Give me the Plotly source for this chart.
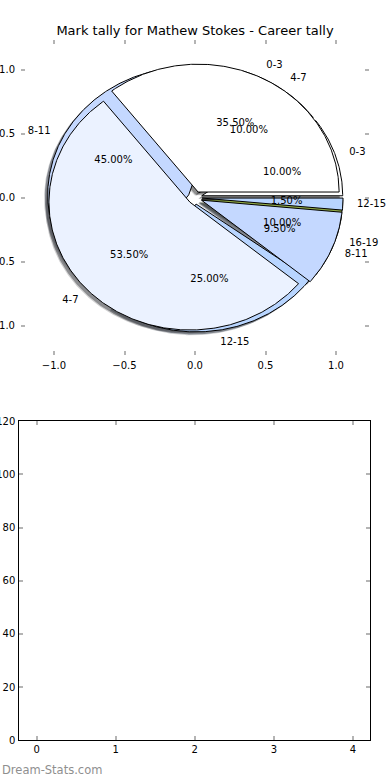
import numpy as np
import plotly.graph_objects as go

chart_title = "Mark tally for Mathew Stokes - Career tally"
pie_a_labels = ["0-3", "4-7", "8-11", "12-15"]
pie_a_values = [35.5, 53.5, 9.5, 1.5]
pie_b_labels = ["0-3", "4-7", "8-11", "12-15", "16-19"]
pie_b_values = [10.0, 10.0, 45.0, 25.0, 10.0]
wedge_colors = ["#ffffff", "#ebf2ff", "#c4d8ff", "#b8d5ff", "#8fa845"]
top_ticks = [-1.0, -0.5, 0.0, 0.5, 1.0]
bottom_x_ticks = [0, 1, 2, 3, 4]
bottom_y_ticks = [0, 20, 40, 60, 80, 100, 120]

EXPLODE = 0.05
SHADOW = (-0.02, -0.02)
FONT = "DejaVu Sans"
W, H = 390, 780


def wedges(values):
    total = float(sum(values))
    out = []
    start = 0.0
    for v in values:
        span = 360.0 * v / total
        end = start + span
        mid = np.deg2rad((start + end) / 2)
        cx, cy = EXPLODE * np.cos(mid), EXPLODE * np.sin(mid)
        n = max(int(span * 2), 4)
        th = np.deg2rad(np.linspace(start, end, n))
        xs = np.concatenate([[cx], cx + np.cos(th), [cx]])
        ys = np.concatenate([[cy], cy + np.sin(th), [cy]])
        out.append((xs, ys, mid, cx, cy, v / total * 100))
        start = end
    return out


def hex_scale(c, k, a):
    c = c.lstrip("#")
    r, g, b = (int(c[i:i + 2], 16) for i in (0, 2, 4))
    return f"rgba({int(r * k)},{int(g * k)},{int(b * k)},{a})"


fig = go.Figure()
pie_b = wedges(pie_b_values)
pie_a = wedges(pie_a_values)

# shadows (beneath all wedges), soft edge imitated with two layers
for pie in (pie_b, pie_a):
    for i, (xs, ys, mid, cx, cy, pct) in enumerate(pie):
        for dx, dy, a in ((SHADOW[0] * 1.3, SHADOW[1] * 1.3, 0.25), (SHADOW[0], SHADOW[1], 0.5)):
            fig.add_trace(go.Scatter(
                x=xs + dx, y=ys + dy, mode="lines", fill="toself",
                fillcolor=hex_scale(wedge_colors[i], 0.3, a), line=dict(width=0),
                hoverinfo="skip", xaxis="x", yaxis="y"))

# wedges
for pie in (pie_b, pie_a):
    for i, (xs, ys, mid, cx, cy, pct) in enumerate(pie):
        fig.add_trace(go.Scatter(
            x=xs, y=ys, mode="lines", fill="toself",
            fillcolor=wedge_colors[i], line=dict(color="black", width=1),
            hoverinfo="skip", xaxis="x", yaxis="y"))

# labels
for pie, labels in ((pie_b, pie_b_labels), (pie_a, pie_a_labels)):
    for i, (xs, ys, mid, cx, cy, pct) in enumerate(pie):
        lx = cx + 1.1 * np.cos(mid)
        ly = cy + 1.1 * np.sin(mid)
        fig.add_trace(go.Scatter(
            x=[lx], y=[ly], mode="text", text=[labels[i]], cliponaxis=False,
            textposition="middle right" if lx > 0 else "middle left",
            textfont=dict(family=FONT, size=10, color="black"),
            hoverinfo="skip", xaxis="x", yaxis="y"))
        px = cx + 0.6 * np.cos(mid)
        py = cy + 0.6 * np.sin(mid)
        fig.add_trace(go.Scatter(
            x=[px], y=[py], mode="text", text=[f"{pct:1.2f}%"], cliponaxis=False,
            textposition="middle center",
            textfont=dict(family=FONT, size=10, color="black"),
            hoverinfo="skip", xaxis="x", yaxis="y"))

# empty second axes
fig.add_trace(go.Scatter(x=[], y=[], mode="markers", xaxis="x2", yaxis="y2"))


def fmt(v):
    s = f"{v:.1f}"
    return s.replace("-", "\u2212")


tick_common = dict(ticks="inside", ticklen=4, tickwidth=1.5, tickcolor="#b4b4b4",
                   showgrid=False, zeroline=False, automargin=False,
                   tickfont=dict(family=FONT, size=10, color="black"))

fig.update_layout(
    width=W, height=H,
    margin=dict(l=0, r=0, t=0, b=0, pad=0),
    paper_bgcolor="white", plot_bgcolor="white",
    showlegend=False,
    title=dict(text=chart_title, x=0.5, xanchor="center", y=1 - 30 / H, yanchor="middle",
               font=dict(family=FONT, size=13, color="black")),
    xaxis=dict(domain=[21 / W, 369 / W], range=[-1.234, 1.234], anchor="y",
               tickvals=top_ticks, ticktext=[fmt(v) for v in top_ticks],
               ticklabelstandoff=3,
               showline=False, mirror="ticks", **tick_common),
    yaxis=dict(domain=[1 - 355 / H, 1 - 40 / H], range=[-1.23, 1.234], anchor="x",
               tickvals=top_ticks, ticktext=[fmt(v) for v in top_ticks],
               ticklabelstandoff=5,
               showline=False, mirror="ticks", **tick_common),
    xaxis2=dict(domain=[19.3 / W, 370.3 / W], range=[-0.22, 4.22], anchor="y2",
                tickvals=bottom_x_ticks, ticktext=[str(v) for v in bottom_x_ticks],
                showline=True, linecolor="black", linewidth=1, mirror="ticks", **tick_common),
    yaxis2=dict(domain=[1 - 740.3 / H, 1 - 421.3 / H], range=[0, 120], anchor="x2",
                tickvals=bottom_y_ticks, ticktext=[str(v) for v in bottom_y_ticks],
                ticklabelstandoff=1,
                showline=True, linecolor="black", linewidth=1, mirror="ticks", **tick_common),
    annotations=[dict(text="Dream-Stats.com", x=0, xanchor="left", y=1 - 770 / H,
                      yanchor="middle", xref="paper", yref="paper", showarrow=False,
                      font=dict(family=FONT, size=11.5, color="#8f8f8f"))],
)

fig.write_html("out.html", config={"displayModeBar": False},
               post_script="document.body.style.margin='0';")
